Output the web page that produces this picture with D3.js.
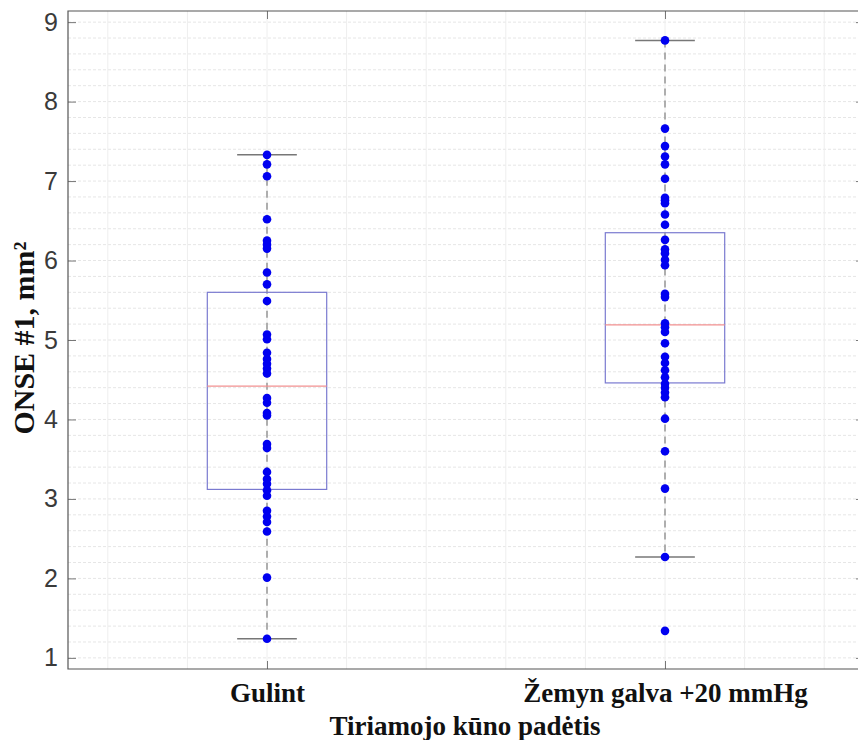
<!DOCTYPE html>
<html>
<head>
<meta charset="utf-8">
<script src="https://cdn.jsdelivr.net/npm/d3@7"></script>
<style>
  body { margin: 0; background: #fff; }
  svg { display: block; }
</style>
</head>
<body>
<div id="chart"></div>
<script>
// kategorijos ir matavimai (nuskaityta nuo paveikslo)
const categories = ["Gulint", "Žemyn galva +20 mmHg"];
const gulintValues = [7.33, 7.21, 7.06, 6.52, 6.25, 6.20, 6.15, 5.85, 5.70, 5.49, 5.07, 5.01,
  4.84, 4.76, 4.70, 4.64, 4.58, 4.27, 4.21, 4.08, 4.05, 3.69, 3.64, 3.34, 3.25, 3.19,
  3.11, 3.04, 2.85, 2.78, 2.71, 2.59, 2.01, 1.24];
const zemynValues = [8.77, 7.66, 7.44, 7.31, 7.21, 7.03, 6.79, 6.76, 6.72, 6.58, 6.45, 6.26,
  6.14, 6.09, 6.01, 5.94, 5.58, 5.54, 5.21, 5.16, 5.10, 4.96, 4.79, 4.71, 4.62, 4.53,
  4.45, 4.40, 4.34, 4.28, 4.01, 3.60, 3.13, 2.27, 1.34];
// dėžutės statistika: apatinis ūsas, Q1, mediana, Q3, viršutinis ūsas
const whiskerLow = [1.24, 2.27];
const q1 = [3.12, 4.46];
const medians = [4.42, 5.19];
const q3 = [5.60, 6.35];
const whiskerHigh = [7.33, 8.77];
const yTicks = [1, 2, 3, 4, 5, 6, 7, 8, 9];

const groups = categories.map((c, i) => ({
  name: c, pos: i + 1,
  lo: whiskerLow[i], q1: q1[i], med: medians[i], q3: q3[i], hi: whiskerHigh[i],
  values: i === 0 ? gulintValues : zemynValues
}));

const W = 858, H = 740;
const pl = 68, pt = 11, pb = 669, pr = 864;

const svg = d3.select("#chart").append("svg")
  .attr("width", W).attr("height", H);

const x = d3.scaleLinear().domain([0.5, 2.5]).range([pl, pr]);
const y = d3.scaleLinear().domain([0.86, 9.14]).range([pb, pt]);

// tinklelis
const grid = svg.append("g");
grid.selectAll(".hg")
  .data(d3.range(1, 9.15, 0.2))
  .enter().append("line")
  .attr("x1", pl).attr("x2", pr)
  .attr("y1", d => y(d)).attr("y2", d => y(d))
  .attr("stroke", "#e6e6e6")
  .attr("stroke-dasharray", "3,2")
  .attr("stroke-width", 1);
grid.selectAll(".vg")
  .data(d3.range(0.6, 2.45, 0.2))
  .enter().append("line")
  .attr("x1", d => x(d)).attr("x2", d => x(d))
  .attr("y1", pt).attr("y2", pb)
  .attr("stroke", "#eeeeee")
  .attr("stroke-width", 1);

// ašys
const yAxis = svg.append("g")
  .attr("transform", `translate(${pl},0)`)
  .call(d3.axisLeft(y).tickValues(yTicks).tickSize(-8).tickPadding(10).tickFormat(d3.format("d")));
yAxis.select(".domain").remove();
yAxis.selectAll("line").attr("stroke", "#777");
yAxis.selectAll("text")
  .style("font-family", "Liberation Sans, Arial, sans-serif")
  .style("font-size", "25px")
  .attr("fill", "#3a3a3a");

const yAxisR = svg.append("g")
  .attr("transform", `translate(${pr},0)`)
  .call(d3.axisRight(y).tickValues(yTicks).tickSize(-8).tickFormat(""));
yAxisR.select(".domain").remove();
yAxisR.selectAll("line").attr("stroke", "#777");

const xAxis = svg.append("g")
  .attr("transform", `translate(0,${pb})`)
  .call(d3.axisBottom(x).tickValues([1, 2]).tickSize(-8).tickPadding(14)
    .tickFormat(d => categories[d - 1]));
xAxis.select(".domain").remove();
xAxis.selectAll("line").attr("stroke", "#777");
xAxis.selectAll("text")
  .style("font-family", "Liberation Serif, Times New Roman, serif")
  .style("font-weight", "bold")
  .style("font-size", "27px")
  .attr("fill", "#111");

const xAxisT = svg.append("g")
  .attr("transform", `translate(0,${pt})`)
  .call(d3.axisTop(x).tickValues([1, 2]).tickSize(-8).tickFormat(""));
xAxisT.select(".domain").remove();
xAxisT.selectAll("line").attr("stroke", "#777");

// rėmelis
svg.append("path")
  .attr("d", `M${pr},${pt}H${pl}V${pb}H${pr}`)
  .attr("fill", "none")
  .attr("stroke", "#555")
  .attr("stroke-width", 1.2);

// dėžutės
const boxW = 0.3, capW = 0.15;
const g = svg.selectAll(".box").data(groups).enter().append("g").attr("class", "box");

g.append("line")
  .attr("x1", d => x(d.pos)).attr("x2", d => x(d.pos))
  .attr("y1", d => y(d.hi)).attr("y2", d => y(d.lo))
  .attr("stroke", "#888")
  .attr("stroke-width", 1.3)
  .attr("stroke-dasharray", "7,5");

g.append("rect")
  .attr("x", d => x(d.pos - boxW / 2))
  .attr("width", x(1 + boxW) - x(1))
  .attr("y", d => y(d.q3))
  .attr("height", d => y(d.q1) - y(d.q3))
  .attr("fill", "none")
  .attr("stroke", "#7a7ad0")
  .attr("stroke-width", 1.2);

g.append("line")
  .attr("x1", d => x(d.pos - boxW / 2)).attr("x2", d => x(d.pos + boxW / 2))
  .attr("y1", d => y(d.med)).attr("y2", d => y(d.med))
  .attr("stroke", "#f29090")
  .attr("stroke-width", 1.3);

["lo", "hi"].forEach(k => {
  g.append("line")
    .attr("x1", d => x(d.pos - capW / 2)).attr("x2", d => x(d.pos + capW / 2))
    .attr("y1", d => y(d[k])).attr("y2", d => y(d[k]))
    .attr("stroke", "#777")
    .attr("stroke-width", 1.5);
});

// taškai
g.selectAll("circle")
  .data(d => d.values.map(v => ({ pos: d.pos, v: v })))
  .enter().append("circle")
  .attr("cx", d => x(d.pos))
  .attr("cy", d => y(d.v))
  .attr("r", 4.3)
  .attr("fill", "#0000f0");

// ašių pavadinimai
svg.append("text")
  .attr("transform", `translate(34,338) rotate(-90)`)
  .attr("text-anchor", "middle")
  .style("font-family", "Liberation Serif, Times New Roman, serif")
  .style("font-weight", "bold")
  .style("font-size", "30px")
  .attr("fill", "#111")
  .text("ONSE #1, mm²");

svg.append("text")
  .attr("x", 465).attr("y", 735)
  .attr("text-anchor", "middle")
  .style("font-family", "Liberation Serif, Times New Roman, serif")
  .style("font-weight", "bold")
  .style("font-size", "27px")
  .attr("fill", "#111")
  .text("Tiriamojo kūno padėtis");
</script>
</body>
</html>
